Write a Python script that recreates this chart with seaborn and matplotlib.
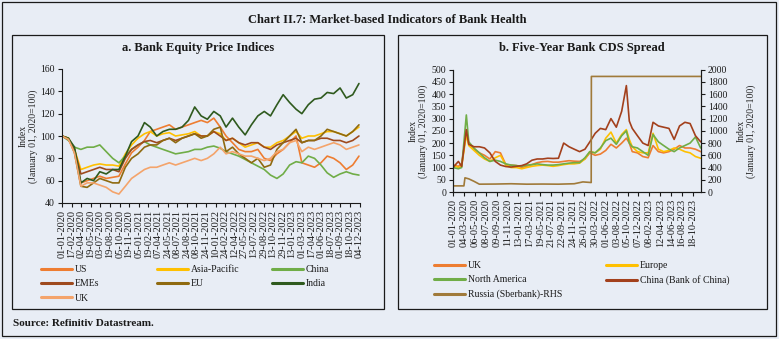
import pandas as pd
import matplotlib
matplotlib.use("Agg")
import matplotlib.pyplot as plt
from matplotlib.lines import Line2D
from matplotlib.patches import Rectangle
import seaborn as sns

# ---------------- a. Bank equity price indices (Jan 01, 2020 = 100), monthly ----------------
equity_dates = pd.date_range("2020-01-01", "2023-12-01", freq="MS")
us = [100, 98, 88, 58, 60, 62, 64, 62, 63, 64, 75, 85,
      90, 96, 104, 106, 108, 110, 106, 108, 110, 112, 114, 112,
      116, 108, 100, 94, 88, 86, 86, 88, 80, 78, 84, 88,
      94, 100, 76, 74, 72, 76, 82, 80, 76, 70, 74, 82]
asia_pacific = [100, 98, 88, 70, 72, 74, 75, 74, 74, 73, 84, 92,
                98, 102, 104, 100, 102, 103, 100, 101, 102, 104, 100, 100,
                104, 102, 96, 98, 94, 90, 92, 94, 90, 90, 94, 96,
                100, 104, 98, 100, 100, 102, 104, 104, 102, 100, 104, 108]
china = [100, 96, 90, 88, 90, 90, 92, 86, 80, 76, 82, 88,
         92, 95, 92, 90, 88, 86, 84, 85, 86, 88, 88, 90,
         91, 89, 86, 84, 82, 79, 76, 73, 70, 65, 62, 66,
         74, 77, 76, 82, 80, 74, 67, 63, 66, 68, 66, 65]
emes = [100, 97, 88, 66, 68, 70, 72, 70, 70, 68, 80, 88,
        92, 95, 96, 94, 96, 98, 96, 98, 100, 102, 100, 100,
        104, 100, 96, 98, 94, 92, 94, 94, 90, 88, 92, 94,
        96, 98, 94, 96, 96, 98, 98, 96, 96, 94, 96, 100]
eu = [100, 98, 85, 55, 54, 58, 62, 60, 58, 58, 72, 80,
      84, 90, 92, 92, 96, 98, 94, 98, 100, 102, 98, 100,
      106, 108, 86, 90, 84, 80, 76, 80, 72, 74, 88, 94,
      100, 106, 94, 96, 96, 100, 106, 104, 102, 100, 104, 110]
india = [100, 98, 90, 58, 62, 60, 68, 66, 70, 70, 82, 95,
         100, 112, 108, 100, 104, 106, 106, 108, 114, 126, 118, 115,
         122, 118, 108, 116, 108, 101, 110, 118, 122, 118, 128, 137,
         130, 124, 120, 128, 133, 134, 139, 138, 143, 134, 137, 147]
uk_equity = [100, 97, 85, 55, 58, 58, 56, 54, 50, 48, 55, 62,
             66, 70, 72, 72, 74, 76, 74, 76, 78, 80, 78, 80,
             84, 90, 84, 86, 84, 82, 82, 80, 78, 80, 86, 88,
             94, 96, 86, 90, 88, 90, 92, 94, 92, 88, 90, 92]
equity_ticks = ["01-01-2020", "17-02-2020", "02-04-2020", "19-05-2020", "03-07-2020",
                "19-08-2020", "05-10-2020", "19-11-2020", "05-01-2021", "19-02-2021",
                "07-04-2021", "24-05-2021", "08-07-2021", "24-08-2021", "08-10-2021",
                "24-11-2021", "10-01-2022", "24-02-2022", "12-04-2022", "27-05-2022",
                "13-07-2022", "29-08-2022", "13-10-2022", "29-11-2022", "13-01-2023",
                "01-03-2023", "17-04-2023", "01-06-2023", "18-07-2023", "01-09-2023",
                "18-10-2023", "04-12-2023"]

# ---------------- b. Five-year bank CDS spread (Jan 01, 2020 = 100) ----------------
cds_dates = pd.to_datetime([
    "2020-01-01", "2020-02-01", "2020-02-20", "2020-03-18", "2020-04-01", "2020-05-01",
    "2020-06-01", "2020-07-01", "2020-08-01", "2020-09-01", "2020-10-01", "2020-11-01",
    "2020-12-01",
    "2021-01-01", "2021-02-01", "2021-03-01", "2021-04-01", "2021-05-01", "2021-06-01",
    "2021-07-01", "2021-08-01", "2021-09-01", "2021-10-01", "2021-11-01", "2021-12-01",
    "2022-01-01", "2022-02-01", "2022-03-01", "2022-04-01", "2022-05-01", "2022-06-01",
    "2022-07-01", "2022-08-01", "2022-09-01", "2022-09-28", "2022-10-15", "2022-11-01",
    "2022-12-01",
    "2023-01-01", "2023-02-01", "2023-03-01", "2023-04-01", "2023-05-01", "2023-06-01",
    "2023-07-01", "2023-08-01", "2023-09-01", "2023-10-01", "2023-11-01", "2023-12-01"])
uk_cds = [110, 105, 115, 245, 200, 175, 160, 150, 135, 165, 160, 112, 110,
          108, 100, 105, 112, 120, 124, 125, 122, 122, 125, 128, 126,
          125, 135, 160, 150, 155, 170, 195, 180, 200, 220, 200, 165, 160,
          145, 140, 190, 165, 160, 165, 175, 190, 180, 180, 175, 165]
europe_cds = [110, 100, 105, 235, 190, 170, 150, 135, 125, 140, 150, 110, 100,
              100, 95, 100, 105, 108, 110, 108, 105, 108, 112, 115, 115,
              118, 135, 165, 160, 175, 220, 245, 200, 235, 255, 215, 185, 165,
              160, 160, 240, 175, 165, 170, 180, 175, 165, 160, 145, 138]
north_america_cds = [100, 95, 100, 315, 205, 180, 160, 140, 125, 130, 125, 115, 110,
                     108, 105, 110, 112, 115, 112, 110, 110, 112, 115, 118, 120,
                     120, 140, 165, 160, 180, 210, 220, 195, 230, 250, 200, 185, 180,
                     165, 150, 235, 205, 190, 175, 165, 180, 190, 200, 225, 180]
china_boc_cds = [100, 125, 105, 255, 195, 185, 185, 180, 160, 125, 110, 104, 102,
                 105, 108, 115, 130, 135, 135, 138, 137, 138, 200, 185, 175,
                 165, 175, 205, 240, 260, 255, 300, 265, 330, 435, 290, 260, 230,
                 200, 190, 285, 270, 265, 260, 215, 270, 285, 280, 230, 205]
russia_dates = pd.to_datetime([
    "2020-01-01", "2020-03-04", "2020-03-10", "2020-04-01", "2020-05-01", "2020-06-01",
    "2020-09-01", "2020-12-01", "2021-03-01", "2021-06-01", "2021-09-01", "2021-12-01",
    "2022-01-20", "2022-03-09", "2022-03-10", "2023-12-01"])
russia_cds = [100, 100, 232, 215, 175, 128, 130, 135, 128, 130, 128, 135,
              165, 155, 1890, 1890]
cds_ticks = ["01-01-2020", "04-03-2020", "06-05-2020", "08-07-2020", "09-09-2020",
             "11-11-2020", "13-01-2021", "17-03-2021", "19-05-2021", "21-07-2021",
             "22-09-2021", "24-11-2021", "26-01-2022", "30-03-2022", "01-06-2022",
             "03-08-2022", "05-10-2022", "07-12-2022", "08-02-2023", "12-04-2023",
             "14-06-2023", "16-08-2023", "18-10-2023"]

# ---------------- styling ----------------
BG = "#E8EDF5"
INK = "#1a1a1a"
sns.set_theme(style="ticks")
plt.rcParams["font.family"] = ["Liberation Serif", "DejaVu Serif"]
plt.rcParams.update({
    "axes.facecolor": BG, "figure.facecolor": BG, "savefig.facecolor": BG,
    "axes.edgecolor": INK, "axes.linewidth": 0.8,
    "xtick.color": INK, "ytick.color": INK, "text.color": INK,
    "xtick.major.size": 3, "ytick.major.size": 3,
    "xtick.major.width": 0.8, "ytick.major.width": 0.8,
    "xtick.major.pad": 2, "ytick.major.pad": 2,
})

W, H = 779, 339
fig = plt.figure(figsize=(W / 100, H / 100), dpi=100)


def rect(left, top, right, bottom):
    return [left / W, 1 - bottom / H, (right - left) / W, (bottom - top) / H]


def frame(left, top, right, bottom, lw=0.9):
    fig.patches.append(Rectangle((left / W, 1 - bottom / H), (right - left) / W,
                                 (bottom - top) / H, transform=fig.transFigure,
                                 fill=False, edgecolor=INK, linewidth=lw))


frame(2, 2, 776, 336)
frame(12, 35, 384, 309)
frame(398, 35, 767, 309)

fig.text(387 / W, 1 - 20 / H, "Chart II.7: Market-based Indicators of Bank Health",
         ha="center", va="center", fontsize=9, fontweight="bold")
fig.text(198 / W, 1 - 48 / H, "a. Bank Equity Price Indices",
         ha="center", va="center", fontsize=9, fontweight="bold")
fig.text(582 / W, 1 - 48 / H, "b. Five-Year Bank CDS Spread",
         ha="center", va="center", fontsize=9, fontweight="bold")
fig.text(13 / W, 1 - 324 / H, "Source: Refinitiv Datastream.",
         ha="left", va="center", fontsize=8, fontweight="bold")

LW = 1.2
TICK_FS = 7
YLABEL = "Index\n(January 01, 2020=100)"

# ---------------- panel a ----------------
axa = fig.add_axes(rect(62, 69, 360, 203))
equity = pd.DataFrame({"date": equity_dates, "US": us, "Asia-Pacific": asia_pacific,
                       "China": china, "EMEs": emes, "EU": eu, "India": india,
                       "UK": uk_equity})
equity_colors = {"US": "#EE7D31", "Asia-Pacific": "#FFC000", "China": "#70AD47",
                 "EMEs": "#9E4A1E", "EU": "#8F6A10", "India": "#2F5A1E",
                 "UK": "#F4A46B"}
for name, col in equity_colors.items():
    sns.lineplot(data=equity, x="date", y=name, ax=axa, color=col, lw=LW, legend=False)
axa.set_ylim(40, 160)
axa.set_yticks(range(40, 161, 20))
axa.set_xlim(pd.Timestamp("2020-01-01"), pd.Timestamp("2023-12-06"))
eq_ticks = pd.to_datetime(equity_ticks, format="%d-%m-%Y")
axa.set_xticks(eq_ticks)
axa.set_xticklabels(equity_ticks, rotation=90)
axa.tick_params(axis="x", labelsize=7.5)
axa.tick_params(axis="y", labelsize=TICK_FS)
axa.set_xlabel("")
axa.set_ylabel(YLABEL, fontsize=7, linespacing=1.1)
axa.yaxis.set_label_coords(-0.082, 0.5)
sns.despine(ax=axa)


def column_legend(names, colors, x, y):
    handles = [Line2D([], [], color=colors[n], lw=2.2) for n in names]
    fig.legend(handles, names, loc="upper left", bbox_to_anchor=(x / W, 1 - y / H),
               frameon=False, fontsize=7, handlelength=3.2, handletextpad=0.25,
               labelspacing=0.55, borderpad=0, borderaxespad=0)


column_legend(["US", "EMEs", "UK"], equity_colors, 41, 265)
column_legend(["Asia-Pacific", "EU"], equity_colors, 157, 265)
column_legend(["China", "India"], equity_colors, 272, 265)

# ---------------- panel b ----------------
axb = fig.add_axes(rect(453, 69.7, 701, 192))
cds = pd.DataFrame({"date": cds_dates, "UK": uk_cds, "Europe": europe_cds,
                    "North America": north_america_cds,
                    "China (Bank of China)": china_boc_cds})
cds_colors = {"UK": "#ED7D31", "Europe": "#FFC000", "North America": "#70AD47",
              "China (Bank of China)": "#A3401C",
              "Russia (Sberbank)-RHS": "#A07A3A"}
for name in ["UK", "Europe", "North America", "China (Bank of China)"]:
    sns.lineplot(data=cds, x="date", y=name, ax=axb, color=cds_colors[name], lw=LW,
                 legend=False)
axb.set_ylim(0, 500)
axb.set_yticks(range(0, 501, 50))
xb0, xb1 = pd.Timestamp("2020-01-01"), pd.Timestamp("2023-12-03")
axb.set_xlim(xb0, xb1)
cd_ticks = pd.to_datetime(cds_ticks, format="%d-%m-%Y")
axb.set_xticks(cd_ticks)
axb.set_xticklabels(cds_ticks, rotation=90)
axb.tick_params(axis="x", labelsize=7.5)
axb.tick_params(axis="y", labelsize=TICK_FS)
axb.set_xlabel("")
axb.set_ylabel(YLABEL, fontsize=7, linespacing=1.1)
axb.yaxis.set_label_coords(-0.1, 0.5)

axr = axb.twinx()
russia = pd.DataFrame({"date": russia_dates, "Russia (Sberbank)-RHS": russia_cds})
sns.lineplot(data=russia, x="date", y="Russia (Sberbank)-RHS", ax=axr,
             color=cds_colors["Russia (Sberbank)-RHS"], lw=LW, legend=False)
axr.set_xlim(xb0, xb1)
axr.set_ylim(0, 2000)
axr.set_yticks(range(0, 2001, 200))
axr.tick_params(axis="y", labelsize=TICK_FS)
axr.set_ylabel(YLABEL, fontsize=7, linespacing=1.1)
axr.yaxis.set_label_coords(1.145, 0.5)
axr.set_xlabel("")
for a in (axb, axr):
    a.spines["top"].set_visible(False)

column_legend(["UK", "North America", "Russia (Sberbank)-RHS"], cds_colors, 434, 261)
column_legend(["Europe", "China (Bank of China)"], cds_colors, 606, 261)

fig.savefig("out.png", dpi=100)
